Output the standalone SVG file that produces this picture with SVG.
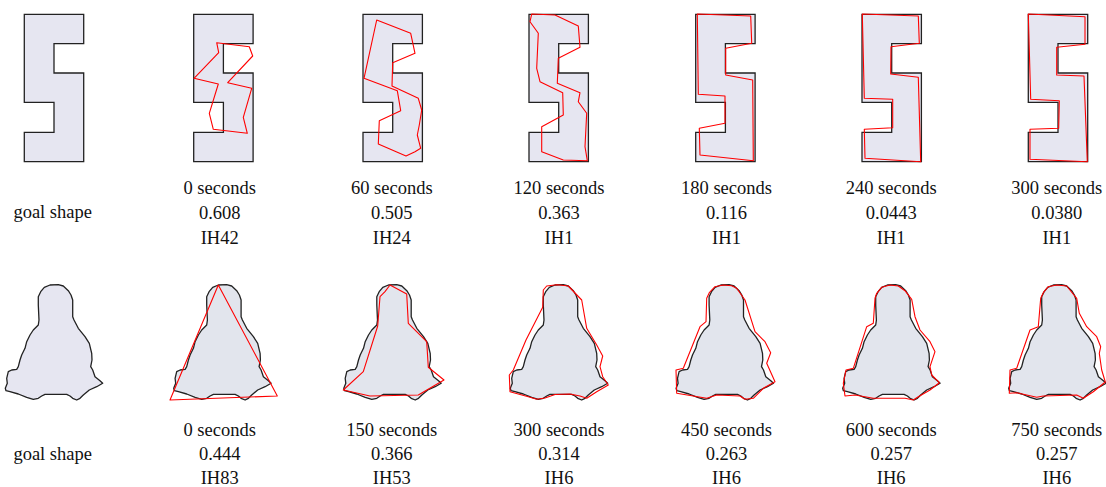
<svg xmlns="http://www.w3.org/2000/svg" xmlns:xlink="http://www.w3.org/1999/xlink" width="1106" height="487" viewBox="0 0 1106 487">
<style>
.s{fill:#e6e6f1;stroke:#222;stroke-width:1.3;stroke-linejoin:miter}
.b{fill:#e6e6f1;stroke:#222;stroke-width:1.3;stroke-linejoin:round}
.b2{fill:#e2e5ed;stroke:#222;stroke-width:1.3;stroke-linejoin:round}
.r{fill:none;stroke:#f00;stroke-width:1.1;stroke-linejoin:round}
text{font-family:"Liberation Serif","Times New Roman",serif;font-size:18.5px;fill:#111;text-anchor:middle}
</style>
<defs>
<path id="S" d="M0,14.3 H59.4 V43.7 H29.7 V73 H59.4 V161.7 H0 V132.3 H29.7 V102.3 H0 Z"/>
<path id="B" d="M38.3,305 L38.3,296.7 L40.7,291.7 L44.3,287.3 L50,285 L58.3,284.7 L63.3,286 L68.3,290.7 L71,295 L72.7,300 L72.7,316.7 L74,320 L78.3,328.3 L85,336.7 L89.3,343.3 L91.7,353.3 L92,360 L90.7,366.7 L92.7,370 L95,376.7 L100,380.7 L102.7,383.3 L96.7,386.7 L89.3,390 L83.3,395 L80,398.3 L76.7,400 L72.7,398.3 L70,396 L66.7,394.3 L45,394.3 L41.7,396 L38.3,398.3 L33.3,399.3 L26.7,397.3 L18.3,394 L10,391.7 L6,390.7 L5.3,388.3 L7.3,383.3 L6.7,378.3 L8.3,371.7 L11.7,370 L16.7,369.3 L18.3,366.7 L20,360 L21.7,355 L25,348.3 L26.7,341.7 L30,335 L33.3,330 L38.3,325 L39,320 Z"/>
</defs>
<g id="row1-goal"><use href="#S" class="s" transform="translate(24.3,0)"/><text x="52.7" y="218">goal shape</text></g>
<g id="row1-0s"><use href="#S" class="s" transform="translate(193.7,0)"/>
<polygon class="r" points="216.7,42.7 249.3,46.7 252.7,56 227.7,82.7 251.7,88.3 243.3,117.3 247.3,133.3 213.3,129.3 209.3,113.3 218.3,84 194,78.3 218.7,52.7"/>
<text x="219.7" y="194.3">0 seconds</text><text x="219.7" y="219">0.608</text><text x="219.7" y="244">IH42</text></g>
<g id="row1-60s"><use href="#S" class="s" transform="translate(363,0)"/>
<polygon class="r" points="376.7,20 410.7,33.3 415,53.3 392.7,62.7 392,86 418.3,98.3 421.7,110 419.3,125 417.3,135 420.7,148.3 415,151.7 406,156 378.3,144 379.3,120.7 400.7,110.7 397.3,90.7 364,78.3"/>
<text x="391.8" y="194.3">60 seconds</text><text x="391.8" y="219">0.505</text><text x="391.8" y="244">IH24</text></g>
<g id="row1-120s"><use href="#S" class="s" transform="translate(529,0)"/>
<polygon class="r" points="531.7,14 555,15 578.3,26 580,47.3 558.3,58.3 557.3,83.3 580,92.7 578.3,101.7 586.7,113.3 585,146.7 587.3,160.7 563.3,160 541.7,151.7 541.7,126.7 563.3,115 562.7,92.7 540,81.7 536.7,68.3 538.3,33.3 530,21.7"/>
<text x="559" y="194.3">120 seconds</text><text x="559" y="219">0.363</text><text x="559" y="244">IH1</text></g>
<g id="row1-180s"><use href="#S" class="s" transform="translate(695.7,0)"/>
<polygon class="r" points="697.3,14 750.7,16 751.7,43.3 725.7,48.3 725.7,75 752.7,80 753.3,160.7 700,155 699.3,128.3 725,123.3 725,96 698.3,94.3"/>
<text x="726.5" y="194.3">180 seconds</text><text x="726.5" y="219">0.116</text><text x="726.5" y="244">IH1</text></g>
<g id="row1-240s"><use href="#S" class="s" transform="translate(862,0)"/>
<polygon class="r" points="862.3,14 918.3,16 919.3,43.3 891,46.7 890.7,74 918.3,77.3 920.7,161.7 865,158.3 864.3,129.3 892.7,127.7 892.7,99.3 864.3,98.3"/>
<text x="891.2" y="194.3">240 seconds</text><text x="891.2" y="219">0.0443</text><text x="891.2" y="244">IH1</text></g>
<g id="row1-300s"><use href="#S" class="s" transform="translate(1028.3,0)"/>
<polygon class="r" points="1028.3,14 1085,16.7 1085,44.3 1056.7,47.3 1056.7,75 1084,76 1087.3,161.7 1030,159.3 1030,129.3 1058.7,128.3 1059.3,100.7 1030.7,99.3"/>
<text x="1056.8" y="194.3">300 seconds</text><text x="1056.8" y="219">0.0380</text><text x="1056.8" y="244">IH1</text></g>

<g id="row2-goal"><use href="#B" class="b"/><text x="52.7" y="459.5">goal shape</text></g>
<g id="row2-0s"><use href="#B" class="b2" transform="translate(168.4,0)"/>
<polygon class="r" points="218.3,285 277.3,396 170,400"/>
<text x="219.7" y="436">0 seconds</text><text x="219.7" y="460.2">0.444</text><text x="219.7" y="483.5">IH83</text></g>
<g id="row2-150s"><use href="#B" class="b2" transform="translate(338.5,0)"/>
<polygon class="r" points="390,285 406.7,294 408.3,323.3 426.7,341.7 428.3,367.3 444,380 418.3,395 370,396 343.3,390 363.3,371.7 377.7,326 380,296.7 385,291.7"/>
<text x="391.8" y="436">150 seconds</text><text x="391.8" y="460.2">0.366</text><text x="391.8" y="483.5">IH53</text></g>
<g id="row2-300s"><use href="#B" class="b2" transform="translate(505,0)"/>
<polygon class="r" points="543.3,290 546.7,286 556.7,284.7 560,285 568.3,286 581.7,300 586.7,328.3 596.7,345 602.7,356 600,366.7 602.7,376.7 608.3,385 596.7,391.7 586.7,398.3 580,396 570,394 555,394.5 545,398 536.7,399.3 528.3,396.7 510,391.7 509.3,375 513.3,370 526,340 542.7,307.3"/>
<text x="559" y="436">300 seconds</text><text x="559" y="460.2">0.314</text><text x="559" y="483.5">IH6</text></g>
<g id="row2-450s"><use href="#B" class="b2" transform="translate(670.8,0)"/>
<polygon class="r" points="706.7,298.3 709.3,292.7 715,286.7 723.3,285 731.7,285.7 736.7,288.3 745,300 755,331.7 765,341.7 770.7,352.7 766.7,363.3 775,381.7 763.3,388.3 753.3,398.3 745,399.3 740,396 716.7,395 706.7,398.3 676.7,393.3 676,370 683.3,368.3 700,326.7 706,321.7"/>
<text x="726.5" y="436">450 seconds</text><text x="726.5" y="460.2">0.263</text><text x="726.5" y="483.5">IH6</text></g>
<g id="row2-600s"><use href="#B" class="b2" transform="translate(837.4,0)"/>
<polygon class="r" points="875,298.3 876.7,293.3 881.7,287.3 890,285 898.3,286 905,290.7 911.7,299.3 915,316.7 920,330 930,341.7 935,351.7 930,366.7 931.7,375 939.3,382.7 930,390 918.3,396.7 913.3,400 905,398.3 873.3,398.3 855,395 845,396 843.3,383.3 846,370 853.3,368.3 866.7,326.7 873.3,323.3"/>
<text x="891.2" y="436">600 seconds</text><text x="891.2" y="460.2">0.257</text><text x="891.2" y="483.5">IH6</text></g>
<g id="row2-750s"><use href="#B" class="b2" transform="translate(1003.4,0)"/>
<polygon class="r" points="1040.7,298.3 1043.3,292.7 1048.3,286.7 1056.7,285 1066.7,286 1076.7,298.3 1079.3,313.3 1086.7,326.7 1096.7,336.7 1100.7,346.7 1099.3,353.3 1101.7,370 1105.3,382 1093.3,391.7 1083.3,398.3 1076.7,395 1043.3,396 1036.7,397.3 1016.7,392.7 1009.3,393.3 1010,370 1016.7,368.3 1030,330 1038.3,326.7"/>
<text x="1056.8" y="436">750 seconds</text><text x="1056.8" y="460.2">0.257</text><text x="1056.8" y="483.5">IH6</text></g>
<g id="connectors"></g>
</svg>
